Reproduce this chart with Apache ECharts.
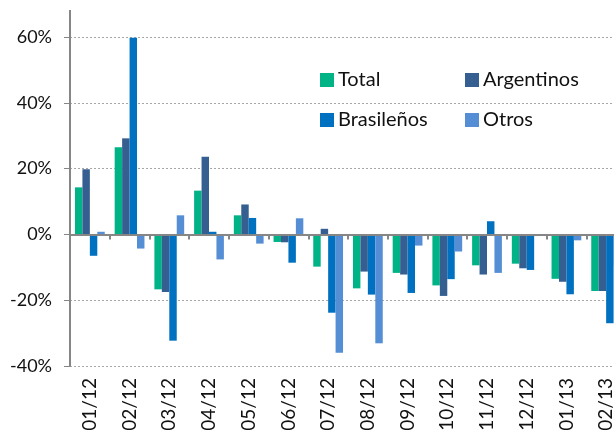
<!DOCTYPE html>
<html>
<head>
<meta charset="utf-8">
<script src="https://cdn.jsdelivr.net/npm/echarts@6/dist/echarts.min.js"></script>
<style>
  html, body { margin: 0; padding: 0; background: #fff; }
  #chart { width: 614px; height: 430px; }
</style>
</head>
<body>
<div id="chart"></div>
<script>
// datos (variacion % interanual)
var meses = ['01/12','02/12','03/12','04/12','05/12','06/12','07/12','08/12','09/12','10/12','11/12','12/12','01/13','02/13'];
var total      = [14.3, 26.5, -16.7, 13.3, 5.8, -2.3, -9.8, -16.4, -11.7, -15.5, -9.4, -8.9, -13.5, -17.2];
var argentinos = [19.8, 29.2, -17.5, 23.6, 9.1, -2.4, 1.7, -11.3, -12.2, -18.7, -12.2, -10.3, -14.4, -17.2];
var brasilenos = [-6.5, 59.8, -32.3, 0.8, 5.0, -8.6, -23.8, -18.3, -17.8, -13.6, 4.0, -10.8, -18.2, -27.0];
var otros      = [0.8, -4.3, 5.8, -7.6, -2.8, 4.9, -36.0, -33.1, -3.4, -5.2, -11.7, -0.5, -1.8, -9.4];

var nombres = ['Total', 'Argentinos', 'Brasileños', 'Otros'];
var colores = ['#00b386', '#365f91', '#0070c0', '#558ed5'];
var valores = [total, argentinos, brasilenos, otros];

var gris = '#868686';
var fuente = 'Lato';

var myChart = echarts.init(document.getElementById('chart'));

var series = [];
for (var i = 0; i < nombres.length; i++) {
    series.push({
        name: nombres[i],
        type: 'bar',
        xAxisIndex: 0,
        data: valores[i],
        barGap: '0%',
        barCategoryGap: '25%',
        itemStyle: { color: colores[i] }
    });
}

var leyenda = function (left, items) {
    return {
        left: left,
        top: 70,
        orient: 'vertical',
        padding: 0,
        itemGap: 20,
        itemWidth: 14,
        itemHeight: 14,
        icon: 'rect',
        data: items,
        textStyle: { fontFamily: fuente, fontSize: 20, color: '#111', lineHeight: 20, padding: [0, 0, 0, -1] }
    };
};

option = {
    animation: false,
    color: colores,
    // el grafico original esta recortado a la derecha
    grid: { left: 70, width: 556, top: 37, bottom: 64, outerBoundsMode: 'none' },
    legend: [
        leyenda(320, ['Total', 'Brasileños']),
        leyenda(465, ['Argentinos', 'Otros'])
    ],
    xAxis: [
        {
            type: 'category',
            data: meses,
            position: 'bottom',
            axisLine: { show: false, onZero: false },
            axisTick: { show: false },
            axisLabel: { rotate: 90, margin: 12, fontFamily: fuente, fontSize: 19, color: '#111' }
        },
        {
            type: 'category',
            data: meses,
            position: 'top',
            axisLine: { show: true, onZero: true, lineStyle: { color: gris, width: 2 } },
            axisTick: { show: true, inside: true, length: 5, lineStyle: { color: gris, width: 2 } },
            axisLabel: { show: false },
            z: 5
        }
    ],
    yAxis: {
        type: 'value',
        min: -40,
        max: 60,
        interval: 20,
        axisLine: { show: true, lineStyle: { color: gris, width: 2 } },
        axisTick: { show: true, length: 6, lineStyle: { color: gris, width: 1 } },
        axisLabel: { formatter: '{value}%', margin: 18, fontFamily: fuente, fontSize: 18, color: '#111' },
        splitLine: { show: true, lineStyle: { color: '#a6a6a6', type: [2, 2], width: 1 } }
    },
    graphic: [
        // el eje vertical sigue un poco por encima del 60%
        { type: 'line', shape: { x1: 70, y1: 10, x2: 70, y2: 37 }, style: { stroke: gris, lineWidth: 2 } }
    ],
    series: series
};

myChart.setOption(option);
</script>
</body>
</html>
